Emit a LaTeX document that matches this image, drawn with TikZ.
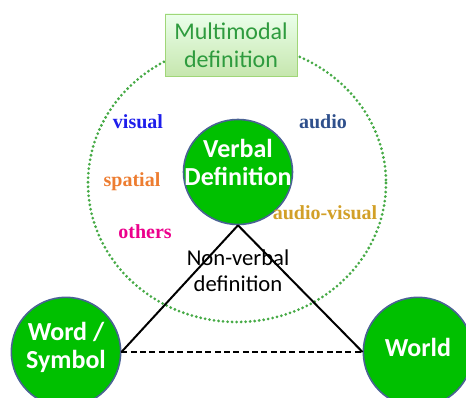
\documentclass[tikz,border=0pt]{standalone}
\usepackage{fontspec}
\setmainfont{Carlito}
\newfontfamily\labelfont{Liberation Serif}
\usetikzlibrary{shapes.geometric,shadows}

\definecolor{conceptgreen}{RGB}{0,192,0}
\definecolor{conceptrim}{RGB}{74,98,148}
\definecolor{modaltext}{RGB}{46,155,62}
\definecolor{modalrim}{RGB}{160,214,120}
\definecolor{dotgreen}{RGB}{70,170,70}
\definecolor{visualcol}{RGB}{30,30,235}
\definecolor{audiocol}{RGB}{47,80,140}
\definecolor{spatialcol}{RGB}{237,125,49}
\definecolor{avcol}{RGB}{210,160,40}

\begin{document}
\begin{tikzpicture}
		[x=0.75pt,y=-0.75pt,
		concept/.style ={circle, draw=conceptrim, line width=1.2pt, fill=conceptgreen, text=white, font=\fontsize{19.5}{21}\selectfont\bfseries, align=center, inner sep=0pt, minimum size=82pt},
		modal/.style ={rectangle, draw=modalrim, fill=modalrim!40, top color=green!8!white, bottom color=modalrim!60!white, text=modaltext, font=\fontsize{18}{21}\selectfont, align=center, minimum width=99pt, minimum height=46.5pt, drop shadow={shadow xshift=1pt, shadow yshift=-1pt, opacity=0.25}},
		mode/.style ={font=\labelfont\fontsize{15}{17}\selectfont\bfseries},
		line/.style ={draw, line width=1.5pt}]
		\useasboundingbox (0,0) rectangle (466,398);
		
		% dotted ring of the modes
		\draw[dotgreen, line width=2.3pt, line cap=round, dash pattern=on 0pt off 3.4pt] (237,183) ellipse [x radius=149, y radius=139];
		
		\node[modal] (multimodal) at (231,45) {Multimodal\\definition};
		
		\node[concept, shape=ellipse, inner sep=-12pt, text depth=15pt, minimum width=81.75pt, minimum height=78.75pt] (verbal) at (238,172) {Verbal\\Definition};
		\node[concept, text depth=10pt] (word) at (66,352) {Word /\\Symbol};
		\node[concept, text depth=7.5pt] (world) at (418,352) {World};
		
		\node[mode, visualcol] (visual) at (138,122) {visual};
		\node[mode, audiocol] (audio) at (323,122) {audio};
		\node[mode, spatialcol] (spatial) at (132,182) {spatial};
		\node[mode, avcol] (audiovisual) at (325,213) {audio-visual};
		\node[mode, magenta] (others) at (145,232) {others};
		
		\path[line]
		(verbal.south) edge (word.east)
		(verbal.south) edge (world.west);
		\path[line, dash pattern=on 4.5pt off 2.5pt]
		(word.east) edge (world.west);
		
		\node[font=\fontsize{17}{19.5}\selectfont, align=center] (nonverbal) at (238,271) {Non-verbal\\definition};
	\end{tikzpicture}
\end{document}
